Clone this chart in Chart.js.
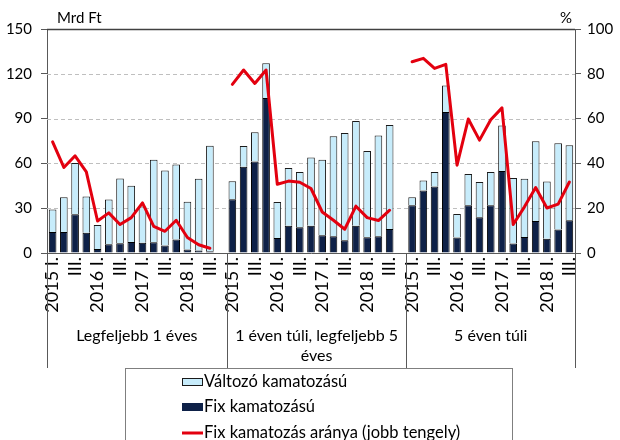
<!DOCTYPE html>
<html><head><meta charset="utf-8">
<script src="https://cdn.jsdelivr.net/npm/chart.js@4.4.0/dist/chart.umd.min.js"></script>
<style>html,body{margin:0;padding:0;background:#fff}</style>
</head><body>
<canvas id="c" width="620" height="440" style="width:620px;height:440px;display:block"></canvas>
<script>
// ---- data ----
const quarterLabels = ['2015 I.','II.','III.','IV.','2016 I.','II.','III.','IV.','2017 I.','II.','III.','IV.','2018 I.','II.','III.'];
const shownTicks    = ['2015 I.','','III.','','2016 I.','','III.','','2017 I.','','III.','','2018 I.','','III.'];
const groupNames = [['Legfeljebb 1 éves'], ['1 éven túli, legfeljebb 5','éves'], ['5 éven túli']];

// Legfeljebb 1 éves
const fixG1   = [14.0, 14.0, 26.0, 13.5, 2.7, 5.8, 6.5, 7.3, 6.9, 7.2, 5.0, 9.0, 2.3, 1.6, 1.2];
const varG1   = [15.1, 23.4, 34.2, 24.3, 16.1, 30.0, 43.4, 37.8, 24.2, 55.3, 50.2, 50.2, 32.1, 48.2, 70.7];
const ratioG1 = [49.6, 38.2, 43.4, 36.2, 14.3, 17.9, 12.7, 15.8, 22.4, 11.9, 9.7, 14.6, 6.9, 3.7, 2.1];
// 1 éven túli, legfeljebb 5 éves
const fixG2   = [36.0, 57.8, 61.2, 103.8, 10.1, 18.3, 17.2, 18.3, 11.9, 11.2, 8.5, 18.3, 10.5, 11.2, 16.1];
const varG2   = [12.0, 13.9, 19.6, 23.2, 24.1, 38.6, 37.0, 45.6, 50.6, 66.9, 71.9, 70.1, 57.8, 67.4, 69.6];
const ratioG2 = [75.3, 81.7, 75.7, 81.7, 30.7, 32.1, 31.6, 28.8, 18.3, 14.6, 10.6, 20.9, 15.8, 14.5, 19.1];
// 5 éven túli
const fixG3   = [31.9, 41.8, 44.5, 94.4, 10.3, 31.9, 23.9, 31.9, 54.9, 6.3, 10.7, 21.4, 9.6, 15.7, 21.9];
const varG3   = [5.4, 6.7, 9.7, 17.7, 15.8, 21.0, 23.6, 22.3, 30.4, 43.9, 39.1, 53.4, 38.2, 57.8, 50.2];
const ratioG3 = [85.4, 86.9, 82.4, 84.2, 39.2, 59.8, 50.4, 59.5, 64.8, 12.7, 20.6, 29.2, 20.1, 21.8, 31.7];

const leftTicksMax = 150, leftStep = 30, rightTicksMax = 100, rightStep = 20;
const seriesNames = ['Változó kamatozású', 'Fix kamatozású', 'Fix kamatozás aránya (jobb tengely)'];

// ---- build combined category table (blank category after groups 1 and 2) ----
const groups = [
  {fix: fixG1, vari: varG1, ratio: ratioG1},
  {fix: fixG2, vari: varG2, ratio: ratioG2},
  {fix: fixG3, vari: varG3, ratio: ratioG3}
];
const labels = [], tickText = [], fixData = [], varData = [], ratioData = [], groupRanges = [];
groups.forEach((g, gi) => {
  const start = labels.length;
  quarterLabels.forEach((q, i) => {
    labels.push(q); tickText.push(shownTicks[i]);
    fixData.push(g.fix[i]); varData.push(g.vari[i]); ratioData.push(g.ratio[i]);
  });
  if (gi < groups.length - 1) {
    labels.push(''); tickText.push(''); fixData.push(null); varData.push(null); ratioData.push(null);
  }
  groupRanges.push([start, labels.length - 1]);
});

const FONT = "Lato, 'Open Sans', sans-serif";
const NAVY = '#0e2148', LIGHT = '#c7ecfb', RED = '#e3000f', AXIS = '#595959';

const decor = {
  id: 'decor',
  beforeDatasetsDraw(chart) {
    const {ctx, chartArea: a, scales: {y}} = chart;
    ctx.save();
    ctx.strokeStyle = '#bfbfbf'; ctx.lineWidth = 1; ctx.setLineDash([4, 3]);
    for (let v = leftStep; v < leftTicksMax; v += leftStep) {
      const py = Math.round(y.getPixelForValue(v)) + 0.5;
      ctx.beginPath(); ctx.moveTo(a.left, py); ctx.lineTo(a.right, py); ctx.stroke();
    }
    ctx.restore();
  },
  afterDraw(chart) {
    const {ctx, chartArea: a, scales: {x, y}} = chart;
    ctx.save();
    // top border
    ctx.strokeStyle = '#404040'; ctx.lineWidth = 1.5; ctx.setLineDash([]);
    const ty = Math.round(y.getPixelForValue(leftTicksMax)) + 0.5;
    ctx.beginPath(); ctx.moveTo(a.left, ty); ctx.lineTo(a.right, ty); ctx.stroke();
    ctx.lineWidth = 1;
    // group separators
    const bounds = [a.left];
    groupRanges.forEach((r, i) => {
      if (i < groupRanges.length - 1) {
        bounds.push((x.getPixelForValue(r[1]) + x.getPixelForValue(r[1] + 1)) / 2);
      }
    });
    bounds.push(a.right);
    ctx.strokeStyle = AXIS;
    bounds.forEach(bx => {
      const px = Math.round(bx) + 0.5;
      ctx.beginPath(); ctx.moveTo(px, a.bottom); ctx.lineTo(px, 368); ctx.stroke();
    });
    // group labels
    ctx.fillStyle = '#000'; ctx.font = '16px ' + FONT; ctx.textAlign = 'center'; ctx.textBaseline = 'middle';
    groupNames.forEach((lines, i) => {
      const cx = (bounds[i] + bounds[i + 1]) / 2;
      lines.forEach((t, j) => ctx.fillText(t, cx, 336 + j * 20));
    });
    // axis titles
    ctx.font = '15px ' + FONT; ctx.textAlign = 'left';
    ctx.fillText('Mrd Ft', 57, 18);
    ctx.textAlign = 'right';
    ctx.fillText('%', 572, 18);
    // legend
    ctx.strokeStyle = '#7f7f7f'; ctx.lineWidth = 1;
    ctx.strokeRect(125.5, 368.5, 387, 80);
    ctx.font = '16.5px ' + FONT; ctx.textAlign = 'left'; ctx.textBaseline = 'middle'; ctx.fillStyle = '#000';
    // row 1
    ctx.fillStyle = LIGHT; ctx.fillRect(182, 378, 20, 8);
    ctx.strokeStyle = '#1a1a1a'; ctx.strokeRect(182.5, 378.5, 20, 7);
    ctx.fillStyle = '#000'; ctx.fillText(seriesNames[0], 204, 382);
    // row 2
    ctx.fillStyle = NAVY; ctx.fillRect(182, 403, 21, 8);
    ctx.fillStyle = '#000'; ctx.fillText(seriesNames[1], 204, 407);
    // row 3
    ctx.strokeStyle = RED; ctx.lineWidth = 3;
    ctx.beginPath(); ctx.moveTo(182, 433); ctx.lineTo(203, 433); ctx.stroke();
    ctx.fillText(seriesNames[2], 204, 433);
    ctx.restore();
  }
};

new Chart(document.getElementById('c'), {
  type: 'bar',
  data: {
    labels,
    datasets: [
      {label: seriesNames[1], data: fixData, backgroundColor: NAVY, borderColor: '#000', borderWidth: 1, order: 1, yAxisID: 'y', barPercentage: 0.68, categoryPercentage: 1},
      {label: seriesNames[0], data: varData, backgroundColor: LIGHT, borderColor: '#1a1a1a', borderWidth: 1, order: 1, yAxisID: 'y', barPercentage: 0.68, categoryPercentage: 1},
      {type: 'line', label: seriesNames[2], data: ratioData, borderColor: RED, borderWidth: 3, pointRadius: 0, tension: 0, spanGaps: false, order: 0, yAxisID: 'y1', borderJoinStyle: 'round', borderCapStyle: 'round'}
    ]
  },
  options: {
    responsive: false, animation: false, devicePixelRatio: 1,
    layout: {padding: {top: 29, left: 0, right: 0, bottom: 0}},
    plugins: {legend: {display: false}, tooltip: {enabled: false}},
    scales: {
      x: {
        stacked: true, offset: true,
        grid: {display: false, drawTicks: false},
        border: {display: true, color: AXIS, width: 1},
        ticks: {autoSkip: false, minRotation: 90, maxRotation: 90, padding: 4, color: '#000',
                font: {family: FONT, size: 18}, callback: (v, i) => tickText[i]},
        afterFit: s => { s.height = 187; }
      },
      y: {
        position: 'left', stacked: true, min: 0, max: leftTicksMax,
        ticks: {stepSize: leftStep, padding: 9, color: '#000', font: {family: FONT, size: 15}},
        grid: {drawOnChartArea: false, tickLength: 6, tickColor: AXIS},
        border: {display: true, color: AXIS},
        afterFit: s => { s.width = 47; }
      },
      y1: {
        position: 'right', min: 0, max: rightTicksMax,
        ticks: {stepSize: rightStep, padding: 6, color: '#000', font: {family: FONT, size: 15}},
        grid: {drawOnChartArea: false, tickLength: 6, tickColor: AXIS},
        border: {display: true, color: AXIS},
        afterFit: s => { s.width = 45; }
      }
    }
  },
  plugins: [decor]
});
</script>
</body></html>
